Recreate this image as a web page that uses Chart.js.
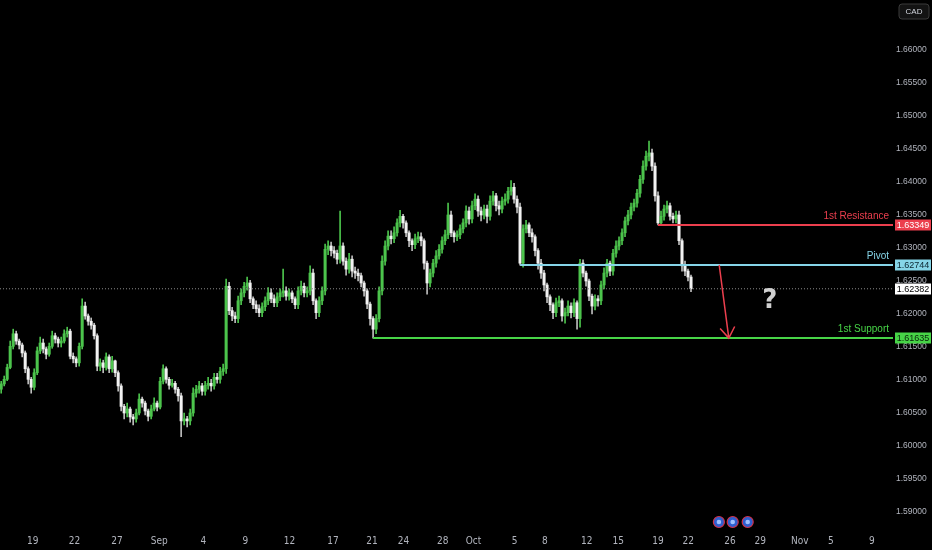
<!DOCTYPE html>
<html>
<head>
<meta charset="utf-8">
<title>EURCAD 4h</title>
<script src="https://cdn.jsdelivr.net/npm/chart.js@4.4.1/dist/chart.umd.min.js"></script>
<style>
html, body { margin: 0; padding: 0; background: #000; overflow: hidden; }
#wrap { width: 932px; height: 550px; position: relative; }
</style>
</head>
<body>
<div id="wrap"><canvas id="chart"></canvas></div>
<script>
// candles, one per 4h bar (index 0 = first bar on the left)
const opens = [
1.6086,1.6094,1.6101,1.6119,1.6151,1.6170,1.6159,1.6153,1.6141,1.6117,1.6101,1.6089,1.6111,1.6144,1.6156,1.6147,1.6139,1.6151,1.6167,1.6162,
1.6156,1.6159,1.6170,1.6174,1.6136,1.6132,1.6126,1.6151,1.6212,1.6197,1.6189,1.6183,1.6167,1.6121,1.6126,1.6119,1.6135,1.6117,1.6129,1.6111,
1.6091,1.6060,1.6050,1.6056,1.6044,1.6041,1.6050,1.6071,1.6065,1.6053,1.6045,1.6056,1.6065,1.6059,1.6098,1.6117,1.6101,1.6092,1.6095,1.6086,
1.6076,1.6038,1.6041,1.6038,1.6050,1.6080,1.6086,1.6091,1.6083,1.6092,1.6095,1.6091,1.6104,1.6101,1.6113,1.6117,1.6242,1.6205,1.6197,1.6193,
1.6220,1.6232,1.6242,1.6247,1.6223,1.6214,1.6208,1.6202,1.6211,1.6220,1.6232,1.6223,1.6217,1.6226,1.6232,1.6235,1.6227,1.6232,1.6223,1.6214,
1.6235,1.6242,1.6232,1.6235,1.6262,1.6220,1.6202,1.6220,1.6235,1.6298,1.6303,1.6296,1.6292,1.6283,1.6303,1.6280,1.6268,1.6283,1.6265,1.6262,
1.6258,1.6247,1.6235,1.6215,1.6193,1.6177,1.6193,1.6235,1.6280,1.6303,1.6318,1.6314,1.6323,1.6338,1.6348,1.6338,1.6323,1.6311,1.6305,1.6314,
1.6317,1.6311,1.6277,1.6247,1.6262,1.6277,1.6288,1.6298,1.6311,1.6320,1.6350,1.6323,1.6317,1.6320,1.6329,1.6338,1.6356,1.6344,1.6364,1.6374,
1.6356,1.6350,1.6359,1.6348,1.6371,1.6379,1.6364,1.6359,1.6371,1.6374,1.6386,1.6392,1.6374,1.6362,1.6277,1.6329,1.6335,1.6323,1.6317,1.6296,
1.6277,1.6262,1.6244,1.6226,1.6214,1.6202,1.6217,1.6220,1.6197,1.6202,1.6212,1.6202,1.6217,1.6193,1.6277,1.6262,1.6250,1.6227,1.6212,1.6223,
1.6220,1.6244,1.6262,1.6277,1.6265,1.6292,1.6303,1.6311,1.6323,1.6341,1.6350,1.6362,1.6368,1.6383,1.6404,1.6424,1.6439,1.6444,1.6424,1.6379,
1.6338,1.6348,1.6359,1.6364,1.6348,1.6344,1.6350,1.6311,1.6273,1.6265,1.6256
];
const highs = [
1.6098,1.6106,1.6124,1.6159,1.6177,1.6174,1.6162,1.6156,1.6144,1.6120,1.6104,1.6117,1.6150,1.6165,1.6162,1.6150,1.6156,1.6174,1.6171,1.6165,
1.6165,1.6176,1.6180,1.6177,1.6141,1.6135,1.6156,1.6223,1.6218,1.6200,1.6194,1.6186,1.6170,1.6132,1.6130,1.6141,1.6138,1.6136,1.6130,1.6114,
1.6094,1.6063,1.6065,1.6059,1.6048,1.6056,1.6079,1.6074,1.6068,1.6056,1.6062,1.6073,1.6068,1.6104,1.6123,1.6120,1.6104,1.6101,1.6098,1.6089,
1.6080,1.6050,1.6045,1.6056,1.6088,1.6092,1.6098,1.6095,1.6098,1.6104,1.6101,1.6110,1.6110,1.6119,1.6124,1.6253,1.6248,1.6210,1.6203,1.6227,
1.6238,1.6248,1.6256,1.6251,1.6226,1.6220,1.6214,1.6217,1.6226,1.6240,1.6238,1.6229,1.6232,1.6238,1.6268,1.6241,1.6238,1.6235,1.6226,1.6241,
1.6250,1.6247,1.6241,1.6273,1.6268,1.6223,1.6226,1.6241,1.6306,1.6311,1.6309,1.6302,1.6297,1.6356,1.6308,1.6285,1.6292,1.6288,1.6271,1.6268,
1.6262,1.6250,1.6238,1.6218,1.6196,1.6199,1.6241,1.6288,1.6311,1.6326,1.6326,1.6332,1.6344,1.6357,1.6351,1.6341,1.6326,1.6314,1.6321,1.6324,
1.6323,1.6314,1.6280,1.6268,1.6283,1.6296,1.6305,1.6317,1.6327,1.6368,1.6356,1.6326,1.6326,1.6335,1.6344,1.6364,1.6362,1.6371,1.6382,1.6379,
1.6362,1.6365,1.6365,1.6379,1.6386,1.6383,1.6371,1.6377,1.6382,1.6392,1.6402,1.6398,1.6379,1.6368,1.6335,1.6342,1.6338,1.6329,1.6320,1.6299,
1.6283,1.6266,1.6247,1.6229,1.6217,1.6224,1.6227,1.6223,1.6209,1.6220,1.6217,1.6223,1.6220,1.6283,1.6282,1.6265,1.6253,1.6230,1.6229,1.6228,
1.6250,1.6270,1.6283,1.6280,1.6298,1.6311,1.6317,1.6329,1.6347,1.6357,1.6368,1.6374,1.6389,1.6410,1.6432,1.6447,1.6462,1.6450,1.6429,1.6385,
1.6356,1.6365,1.6371,1.6368,1.6353,1.6356,1.6356,1.6314,1.6280,1.6268,1.6259
];
const lows = [
1.6080,1.6091,1.6099,1.6117,1.6147,1.6154,1.6147,1.6135,1.6111,1.6094,1.6080,1.6085,1.6108,1.6140,1.6141,1.6132,1.6136,1.6148,1.6156,1.6150,
1.6150,1.6156,1.6165,1.6132,1.6126,1.6120,1.6121,1.6147,1.6192,1.6183,1.6177,1.6162,1.6114,1.6114,1.6111,1.6115,1.6111,1.6112,1.6105,1.6083,
1.6053,1.6041,1.6044,1.6036,1.6032,1.6036,1.6047,1.6059,1.6047,1.6038,1.6041,1.6053,1.6053,1.6056,1.6094,1.6095,1.6086,1.6089,1.6080,1.6068,
1.6014,1.6032,1.6029,1.6032,1.6045,1.6074,1.6080,1.6077,1.6077,1.6086,1.6083,1.6086,1.6095,1.6095,1.6107,1.6110,1.6199,1.6190,1.6187,1.6187,
1.6214,1.6226,1.6236,1.6217,1.6208,1.6202,1.6196,1.6196,1.6205,1.6214,1.6217,1.6211,1.6211,1.6220,1.6226,1.6221,1.6221,1.6217,1.6208,1.6208,
1.6229,1.6226,1.6226,1.6229,1.6214,1.6193,1.6196,1.6214,1.6229,1.6290,1.6288,1.6285,1.6276,1.6277,1.6274,1.6259,1.6262,1.6256,1.6254,1.6250,
1.6241,1.6227,1.6208,1.6183,1.61635,1.6170,1.6188,1.6229,1.6274,1.6297,1.6306,1.6308,1.6318,1.6332,1.6330,1.6317,1.6302,1.6296,1.6299,1.6308,
1.6303,1.6268,1.6230,1.6241,1.6256,1.6271,1.6283,1.6292,1.6305,1.6314,1.6317,1.6309,1.6311,1.6314,1.6323,1.6332,1.6336,1.6338,1.6358,1.6348,
1.6341,1.6344,1.6338,1.6342,1.6365,1.6356,1.6350,1.6353,1.6365,1.6368,1.6380,1.6368,1.6353,1.6274,1.6271,1.6323,1.6317,1.6309,1.6288,1.6268,
1.6254,1.6235,1.6217,1.6205,1.6193,1.6196,1.6211,1.6189,1.6186,1.6197,1.6194,1.6196,1.6177,1.6180,1.6256,1.6242,1.6220,1.6200,1.6206,1.6212,
1.6214,1.6238,1.6256,1.6258,1.6259,1.6286,1.6297,1.6305,1.6317,1.6335,1.6344,1.6356,1.6362,1.6377,1.6398,1.6418,1.6432,1.6417,1.6371,1.63349,
1.6335,1.6342,1.6353,1.6342,1.6338,1.6338,1.6305,1.6265,1.6258,1.6250,1.6234
];
const closes = [
1.6094,1.6101,1.6119,1.6151,1.6170,1.6159,1.6153,1.6141,1.6117,1.6101,1.6089,1.6111,1.6144,1.6156,1.6147,1.6139,1.6151,1.6167,1.6162,1.6156,
1.6159,1.6170,1.6174,1.6136,1.6132,1.6126,1.6151,1.6212,1.6197,1.6189,1.6183,1.6167,1.6121,1.6126,1.6119,1.6135,1.6117,1.6129,1.6111,1.6091,
1.6060,1.6050,1.6056,1.6044,1.6041,1.6050,1.6071,1.6065,1.6053,1.6045,1.6056,1.6065,1.6059,1.6098,1.6117,1.6101,1.6092,1.6095,1.6086,1.6076,
1.6038,1.6041,1.6038,1.6050,1.6080,1.6086,1.6091,1.6083,1.6092,1.6095,1.6091,1.6104,1.6101,1.6113,1.6117,1.6242,1.6205,1.6197,1.6193,1.6220,
1.6232,1.6242,1.6247,1.6223,1.6214,1.6208,1.6202,1.6211,1.6220,1.6232,1.6223,1.6217,1.6226,1.6232,1.6235,1.6227,1.6232,1.6223,1.6214,1.6235,
1.6242,1.6232,1.6235,1.6262,1.6220,1.6202,1.6220,1.6235,1.6298,1.6303,1.6296,1.6292,1.6283,1.6303,1.6280,1.6268,1.6283,1.6265,1.6262,1.6258,
1.6247,1.6235,1.6215,1.6193,1.6177,1.6193,1.6235,1.6280,1.6303,1.6318,1.6314,1.6323,1.6338,1.6348,1.6338,1.6323,1.6311,1.6305,1.6314,1.6317,
1.6311,1.6277,1.6247,1.6262,1.6277,1.6288,1.6298,1.6311,1.6320,1.6350,1.6323,1.6317,1.6320,1.6329,1.6338,1.6356,1.6344,1.6364,1.6374,1.6356,
1.6350,1.6359,1.6348,1.6371,1.6379,1.6364,1.6359,1.6371,1.6374,1.6386,1.6392,1.6374,1.6362,1.6277,1.6329,1.6335,1.6323,1.6317,1.6296,1.6277,
1.6262,1.6244,1.6226,1.6214,1.6202,1.6217,1.6220,1.6197,1.6202,1.6212,1.6202,1.6217,1.6193,1.6277,1.6262,1.6250,1.6227,1.6212,1.6223,1.6220,
1.6244,1.6262,1.6277,1.6265,1.6292,1.6303,1.6311,1.6323,1.6341,1.6350,1.6362,1.6368,1.6383,1.6404,1.6424,1.6439,1.6444,1.6424,1.6379,1.6338,
1.6348,1.6359,1.6364,1.6348,1.6344,1.6350,1.6311,1.6273,1.6265,1.6256,1.62382
];

// axes
const yTicks = [1.59, 1.595, 1.60, 1.605, 1.61, 1.615, 1.62, 1.625, 1.63, 1.635, 1.64, 1.645, 1.65, 1.655, 1.66];
const xTickPos = [10.5, 24.4, 38.6, 52.7, 67.4, 81.4, 96.1, 110.6, 123.6, 134.1, 147.2, 157.5, 171.2, 181.3, 195.2, 205.7, 219, 229.1, 243, 253.1, 266.3, 276.6, 290.3];
const xTickLabels = ['19', '22', '27', 'Sep', '4', '9', '12', '17', '21', '24', '28', 'Oct', '5', '8', '12', '15', '19', '22', '26', '29', 'Nov', '5', '9'];
const xMin = -0.4, xMax = 297.35;
const yMin = 1.589089, yMax = 1.667574;

// drawn levels
const levelNames = ['1st Resistance', 'Pivot', '1st Support'];
const levelValues = [1.63349, 1.62744, 1.61635];
const levelStart = [219, 173, 124];

// projection arrow (bar index, price) and question mark, calendar events
const arrowFrom = [239.4, 1.62744];
const arrowTo = [242.6, 1.61635];
const questionAt = [256.3, 1.6220];
const eventIdx = [239.3, 243.9, 248.9];

const UP = '#4cc44c', DOWN = '#f2f2f2';
const LEVEL_STYLE = [
    { line: '#ec3f4e', tag: '#ec3f4e', tagText: '#ffffff' },
    { line: '#86d5e8', tag: '#86d5e8', tagText: '#0b2530' },
    { line: '#47d447', tag: '#47d447', tagText: '#08260a' }
];
const FONT = '"Liberation Sans", Arial, sans-serif';

const isUp = i => closes[i] >= opens[i];
const lastClose = closes[closes.length - 1];

const overlay = {
    id: 'overlay',
    afterDraw(chart) {
        const { ctx, chartArea: ca, scales: { x, y } } = chart;
        ctx.save();

        // level captions + price tags
        levelNames.forEach((name, k) => {
            const py = y.getPixelForValue(levelValues[k]);
            const st = LEVEL_STYLE[k];
            ctx.font = '10px ' + FONT;
            ctx.fillStyle = st.line;
            ctx.textAlign = 'right';
            ctx.textBaseline = 'middle';
            ctx.fillText(name, ca.right - 4, py - 9);
            tag(ctx, ca.right + 2, py, st.tag, st.tagText, levelValues[k].toFixed(5));
        });
        tag(ctx, ca.right + 2, y.getPixelForValue(lastClose), '#ffffff', '#000000', lastClose.toFixed(5));

        // arrow
        const x1 = x.getPixelForValue(arrowFrom[0]), y1 = y.getPixelForValue(arrowFrom[1]);
        const x2 = x.getPixelForValue(arrowTo[0]), y2 = y.getPixelForValue(arrowTo[1]);
        ctx.strokeStyle = '#ec3f4e';
        ctx.lineWidth = 1.5;
        ctx.beginPath();
        ctx.moveTo(x1, y1); ctx.lineTo(x2, y2);
        const a = Math.atan2(y2 - y1, x2 - x1);
        const len = 13;
        ctx.moveTo(x2 - len * Math.cos(a - 0.6), y2 - len * Math.sin(a - 0.6));
        ctx.lineTo(x2, y2);
        ctx.lineTo(x2 - len * Math.cos(a + 0.6), y2 - len * Math.sin(a + 0.6));
        ctx.stroke();

        // question mark
        ctx.font = 'bold 26px "DejaVu Sans", sans-serif';
        ctx.fillStyle = '#d0d0d0';
        ctx.textAlign = 'center';
        ctx.textBaseline = 'middle';
        ctx.fillText('?', x.getPixelForValue(questionAt[0]), y.getPixelForValue(questionAt[1]));

        // calendar event markers
        eventIdx.forEach(v => {
            const px = x.getPixelForValue(v), py = ca.bottom + 4;
            ctx.beginPath();
            ctx.arc(px, py, 5.5, 0, Math.PI * 2);
            ctx.fillStyle = '#2f5fd0';
            ctx.fill();
            ctx.lineWidth = 1.2;
            ctx.strokeStyle = '#d0324a';
            ctx.stroke();
            ctx.beginPath();
            ctx.arc(px, py, 2.3, 0, Math.PI * 2);
            ctx.fillStyle = '#9fc0ff';
            ctx.fill();
        });

        // currency box
        ctx.beginPath();
        ctx.roundRect(chart.width - 33, 4, 30, 15, 3);
        ctx.fillStyle = '#131313';
        ctx.fill();
        ctx.strokeStyle = '#3a3a3a';
        ctx.lineWidth = 1;
        ctx.stroke();
        ctx.font = '8px ' + FONT;
        ctx.fillStyle = '#d1d4dc';
        ctx.fillText('CAD', chart.width - 18, 12);

        ctx.restore();
    }
};

function tag(ctx, left, py, bg, fg, text) {
    ctx.fillStyle = bg;
    ctx.fillRect(left, Math.round(py) - 5.5, 36, 11);
    ctx.font = '9px ' + FONT;
    ctx.fillStyle = fg;
    ctx.textAlign = 'center';
    ctx.textBaseline = 'middle';
    ctx.fillText(text, left + 18, Math.round(py) + 0.5);
}

const levelSets = levelNames.map((name, k) => ({
    type: 'line',
    label: name,
    data: [{ x: levelStart[k], y: levelValues[k] }, { x: xMax, y: levelValues[k] }],
    borderColor: LEVEL_STYLE[k].line,
    borderWidth: 2,
    pointRadius: 0
}));

new Chart(document.getElementById('chart'), {
    type: 'bar',
    data: {
        datasets: [
            ...levelSets,
            {
                type: 'line',
                label: 'last',
                data: [{ x: xMin, y: lastClose }, { x: xMax, y: lastClose }],
                borderColor: '#8a8a8a',
                borderWidth: 1,
                borderDash: [1, 2],
                pointRadius: 0
            },
            {
                label: 'body',
                data: closes.map((c, i) => ({ x: i, y: [opens[i], c] })),
                backgroundColor: ctx => isUp(ctx.dataIndex) ? UP : DOWN,
                barThickness: 2.4,
                minBarLength: 1,
                grouped: false
            },
            {
                label: 'wick',
                data: closes.map((c, i) => ({ x: i, y: [lows[i], highs[i]] })),
                backgroundColor: ctx => isUp(ctx.dataIndex) ? UP : '#bdbdbd',
                barThickness: 1,
                grouped: false
            }
        ]
    },
    options: {
        responsive: true,
        maintainAspectRatio: false,
        animation: false,
        layout: { padding: 0 },
        plugins: { legend: { display: false }, tooltip: { enabled: false } },
        events: [],
        scales: {
            x: {
                type: 'linear',
                min: xMin,
                max: xMax,
                offset: false,
                grid: { display: false, drawTicks: false },
                border: { display: false },
                afterBuildTicks: s => { s.ticks = xTickPos.map(v => ({ value: v })); },
                afterFit: s => { s.height = 32; s.paddingLeft = 0; s.paddingRight = 0; },
                ticks: {
                    autoSkip: false,
                    maxRotation: 0,
                    padding: 17,
                    color: '#b2b5be',
                    font: { family: '"Liberation Sans Narrow", "DejaVu Sans Condensed", "Liberation Sans", sans-serif', size: 10 },
                    callback: (v, i) => xTickLabels[i]
                }
            },
            y: {
                position: 'right',
                min: yMin,
                max: yMax,
                grid: { display: false, drawTicks: false },
                border: { display: false },
                afterBuildTicks: s => { s.ticks = yTicks.map(v => ({ value: v })); },
                afterFit: s => { s.width = 39; s.paddingTop = 0; s.paddingBottom = 0; },
                ticks: {
                    padding: 3,
                    color: '#b2b5be',
                    font: { family: '"Liberation Sans", Arial, sans-serif', size: 8.5 },
                    callback: v => v.toFixed(5)
                }
            }
        }
    },
    plugins: [overlay]
});
</script>
</body>
</html>
